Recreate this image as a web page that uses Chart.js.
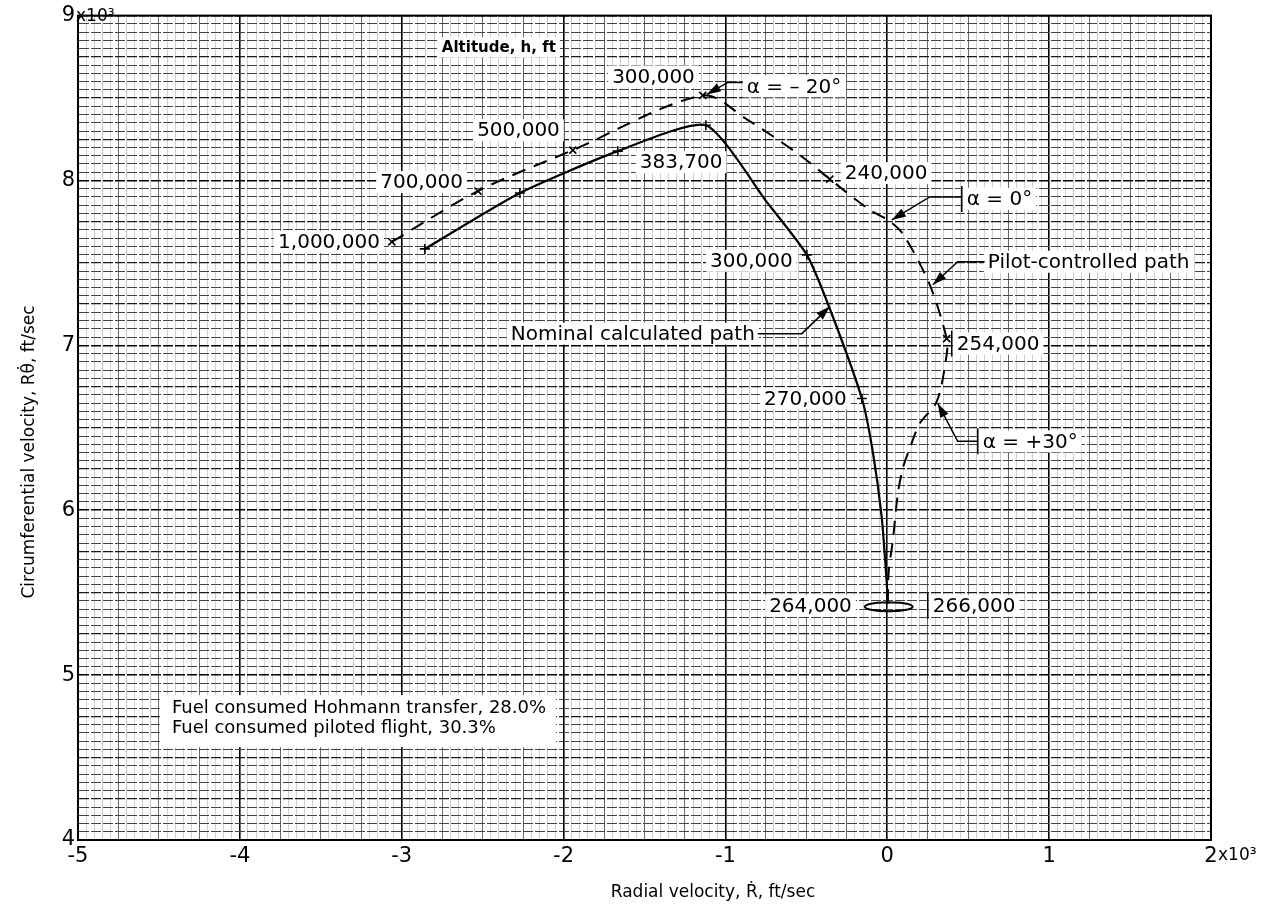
<!DOCTYPE html>
<html><head><meta charset="utf-8">
<script src="https://cdn.jsdelivr.net/npm/chart.js@4"></script>
<style>html,body{margin:0;padding:0;background:#fff}#wrap{width:1268px;height:905px}</style>
</head><body><div id="wrap"><canvas id="c" width="1268" height="905"></canvas></div>
<script>
// ---- data (x in 10^3 ft/sec radial, y in 10^3 ft/sec circumferential) ----
const nominalX = [-2.857, -2.270, -1.665, -1.121, -0.744, -0.497, -0.355, -0.157, -0.090, -0.034, -0.003, 0.003];
const nominalY = [7.585, 7.924, 8.178, 8.335, 7.869, 7.549, 7.222, 6.678, 6.358, 5.953, 5.554, 5.433];
const nominalMarkerIdx = [0, 1, 2, 3, 5, 7];

const pilotX = [-3.061, -2.529, -1.943, -1.140, -0.868, -0.540, -0.355, -0.108, 0.003, 0.096, 0.262, 0.367, 0.367, 0.306, 0.201, 0.139, 0.096, 0.065, 0.034, 0.009, 0.003];
const pilotY = [7.628, 7.936, 8.184, 8.516, 8.371, 8.154, 8.008, 7.821, 7.761, 7.676, 7.368, 7.041, 6.944, 6.660, 6.527, 6.376, 6.255, 6.098, 5.814, 5.632, 5.433];
const pilotMarkerIdx = [0, 1, 2, 3, 6, 11];

const loopX = [0.009, 0.110, 0.157, 0.110, 0.009, -0.092, -0.139, -0.092, 0.009];
const loopY = [5.442, 5.435, 5.415, 5.395, 5.388, 5.395, 5.415, 5.435, 5.442];

const xTickValues = [-5, -4, -3, -2, -1, 0, 1, 2];
const xTickLabels = ['-5', '-4', '-3', '-2', '-1', '0', '1', '2'];
const yTickValues = [4, 5, 6, 7, 8, 9];
const yTickLabels = ['4', '5', '6', '7', '8', '9'];
const xTitle = 'Radial velocity, Ṙ, ft/sec';
const yTitle = 'Circumferential velocity, Rθ̇, ft/sec';
const exponentText = 'x10³';

// annotation texts (anchored in data coordinates)
const annoLabels = [
  {t: 'Altitude, h, ft', x: -2.752, y: 8.807, a: 'left', f: 'bold 15px "DejaVu Sans"'},
  {t: '300,000', x: -1.189, y: 8.631, a: 'right'},
  {t: 'α = – 20°', x: -0.868, y: 8.571, a: 'left'},
  {t: '500,000', x: -2.023, y: 8.305, a: 'right'},
  {t: '383,700', x: -1.529, y: 8.111, a: 'left'},
  {t: '700,000', x: -2.622, y: 7.990, a: 'right'},
  {t: '1,000,000', x: -3.135, y: 7.628, a: 'right'},
  {t: '240,000', x: -0.263, y: 8.045, a: 'left'},
  {t: 'α = 0°', x: 0.491, y: 7.888, a: 'left', bar: true},
  {t: 'Pilot-controlled path', x: 0.621, y: 7.507, a: 'left'},
  {t: '254,000', x: 0.429, y: 7.011, a: 'left', bar: true},
  {t: '300,000', x: -0.584, y: 7.513, a: 'right'},
  {t: 'Nominal calculated path', x: -0.818, y: 7.071, a: 'right'},
  {t: '270,000', x: -0.250, y: 6.678, a: 'right'},
  {t: 'α = +30°', x: 0.590, y: 6.418, a: 'left', bar: true},
  {t: '264,000', x: -0.219, y: 5.421, a: 'right'},
  {t: '266,000', x: 0.281, y: 5.421, a: 'left', bar: true}
];
const noteLines = ['Fuel consumed Hohmann transfer, 28.0%', 'Fuel consumed piloted flight, 30.3%'];
const noteAnchor = {x: -4.42, y: 4.80};
const leaders = [
  [[-0.893, 8.595], [-0.985, 8.595], [-1.115, 8.522]],
  [[0.460, 7.900], [0.262, 7.900], [0.028, 7.761]],
  [[0.602, 7.507], [0.435, 7.507], [0.281, 7.368]],
  [[-0.800, 7.071], [-0.528, 7.071], [-0.355, 7.235]],
  [[0.559, 6.418], [0.435, 6.418], [0.312, 6.648]]
];

// ---- helpers ----
const FONT = '"DejaVu Sans", "Liberation Sans", sans-serif';
const toPts = (xs, ys) => xs.map((v, i) => ({x: v, y: ys[i]}));
const near = (v, step) => Math.abs(v / step - Math.round(v / step)) < 1e-6;
function gridTicks(min, max, step) {
  const t = []; const n = Math.round((max - min) / step);
  for (let i = 0; i <= n; i++) t.push({value: Math.round((min + i * step) * 1000) / 1000});
  return t;
}
function lookup(vals, labs, v) {
  for (let i = 0; i < vals.length; i++) if (Math.abs(vals[i] - v) < 1e-6) return labs[i];
  return '';
}

const annotPlugin = {
  id: 'annot',
  beforeDatasetsDraw(chart) {
    const {ctx, scales: {x, y}} = chart;
    ctx.save();
    ctx.setLineDash([]);
    ctx.textBaseline = 'middle';
    annoLabels.forEach(l => {
      ctx.font = l.f || ('20px ' + FONT);
      const w = ctx.measureText(l.t).width;
      const px = x.getPixelForValue(l.x), py = y.getPixelForValue(l.y);
      const left = l.a === 'left' ? px : (l.a === 'right' ? px - w : px - w / 2);
      const h = l.f ? 20 : 22;
      ctx.fillStyle = '#fff';
      ctx.fillRect(left - 4, py - h / 2, w + 8, h);
      if (l.bar) {
        ctx.strokeStyle = '#000'; ctx.lineWidth = 1.5;
        ctx.beginPath(); ctx.moveTo(left - 5, py - h / 2 - 2); ctx.lineTo(left - 5, py + h / 2 + 2); ctx.stroke();
      }
      ctx.fillStyle = '#000';
      ctx.textAlign = 'left';
      ctx.fillText(l.t, left, py + 1);
    });
    ctx.font = '18px ' + FONT;
    const nx = x.getPixelForValue(noteAnchor.x), ny = y.getPixelForValue(noteAnchor.y);
    const nw = Math.max(...noteLines.map(s => ctx.measureText(s).width));
    ctx.fillStyle = '#fff';
    ctx.fillRect(nx - 12, ny - 13, nw + 22, 52);
    ctx.fillStyle = '#000';
    ctx.textAlign = 'left';
    noteLines.forEach((s, i) => ctx.fillText(s, nx, ny + i * 20));
    ctx.restore();
  },
  afterDatasetsDraw(chart) {
    const {ctx, scales: {x, y}, chartArea: ca} = chart;
    ctx.save();
    ctx.setLineDash([]);
    ctx.strokeStyle = '#000'; ctx.fillStyle = '#000'; ctx.lineWidth = 1.5;
    leaders.forEach(path => {
      const p = path.map(q => [x.getPixelForValue(q[0]), y.getPixelForValue(q[1])]);
      ctx.beginPath(); ctx.moveTo(p[0][0], p[0][1]);
      for (let i = 1; i < p.length; i++) ctx.lineTo(p[i][0], p[i][1]);
      ctx.stroke();
      const a = p[p.length - 2], b = p[p.length - 1];
      const ang = Math.atan2(b[1] - a[1], b[0] - a[0]);
      const L = 14, W = 4.5;
      ctx.beginPath();
      ctx.moveTo(b[0], b[1]);
      ctx.lineTo(b[0] - L * Math.cos(ang) + W * Math.sin(ang), b[1] - L * Math.sin(ang) - W * Math.cos(ang));
      ctx.lineTo(b[0] - L * Math.cos(ang) - W * Math.sin(ang), b[1] - L * Math.sin(ang) + W * Math.cos(ang));
      ctx.closePath(); ctx.fill();
    });
    ctx.lineWidth = 2;
    ctx.strokeRect(ca.left, ca.top, ca.right - ca.left, ca.bottom - ca.top);
    ctx.restore();
  },
  afterDraw(chart) {
    const {ctx, scales: {x, y}, chartArea: ca} = chart;
    ctx.save();
    ctx.fillStyle = '#000';
    ctx.font = '17px ' + FONT;
    ctx.textBaseline = 'middle'; ctx.textAlign = 'left';
    ctx.fillText(exponentText, ca.left - 2, y.getPixelForValue(9) + 1);
    ctx.fillText(exponentText, x.getPixelForValue(2) + 7, ca.bottom + 16);
    ctx.textAlign = 'center';
    ctx.fillText(xTitle, 713, 893);
    ctx.translate(30, 452);
    ctx.rotate(-Math.PI / 2);
    ctx.fillText(yTitle, 0, 0);
    ctx.restore();
  }
};

const chart = new Chart(document.getElementById('c'), {
  type: 'scatter',
  data: {
    datasets: [
      {
        label: 'Nominal calculated path', data: toPts(nominalX, nominalY), showLine: true,
        borderColor: '#000', borderWidth: 2.2, tension: 0.2, fill: false,
        pointStyle: 'cross', pointBorderColor: '#000', pointBorderWidth: 1.6,
        pointRadius: c => nominalMarkerIdx.includes(c.dataIndex) ? 5 : 0
      },
      {
        label: 'Pilot-controlled path', data: toPts(pilotX, pilotY), showLine: true,
        borderColor: '#000', borderWidth: 2, borderDash: [14, 9], tension: 0.3, fill: false,
        pointStyle: 'crossRot', pointBorderColor: '#000', pointBorderWidth: 1.6,
        pointRadius: c => pilotMarkerIdx.includes(c.dataIndex) ? 5 : 0
      },
      {
        label: 'loop', data: toPts(loopX, loopY), showLine: true,
        borderColor: '#000', borderWidth: 2, tension: 0.4, fill: false, pointRadius: 0
      }
    ]
  },
  options: {
    responsive: false, animation: false, devicePixelRatio: 1,
    layout: {padding: {left: 0, right: 57, top: 13, bottom: 0}},
    plugins: {legend: {display: false}, tooltip: {enabled: false}},
    scales: {
      x: {
        type: 'linear', min: -5, max: 2,
        afterBuildTicks: s => { s.ticks = gridTicks(-5, 2, 0.05); },
        afterFit: s => { s.height = 65; },
        border: {color: '#000', width: 2},
        grid: {
          drawTicks: false,
          color: c => near(c.tick.value, 1) ? '#000' : (near(c.tick.value, 0.25) ? '#6a6a6a' : '#d0d0d0'),
          lineWidth: c => near(c.tick.value, 1) ? 1.6 : 1
        },
        ticks: {
          autoSkip: false, maxRotation: 0, minRotation: 0, padding: 4, color: '#000',
          font: {family: FONT, size: 21},
          callback: v => lookup(xTickValues, xTickLabels, v)
        }
      },
      y: {
        type: 'linear', min: 4, max: 9,
        afterBuildTicks: s => { s.ticks = gridTicks(4, 9, 0.05); },
        afterFit: s => { s.width = 78; },
        border: {color: '#000', width: 2, dash: [10, 2]},
        grid: {
          drawTicks: false,
          color: c => near(c.tick.value, 1) ? '#000' : (near(c.tick.value, 0.25) ? '#1a1a1a' : '#444'),
          lineWidth: c => near(c.tick.value, 1) ? 1.6 : (near(c.tick.value, 0.25) ? 1.3 : 1)
        },
        ticks: {
          autoSkip: false, padding: 3, color: '#000',
          font: {family: FONT, size: 21},
          callback: v => lookup(yTickValues, yTickLabels, v)
        }
      }
    }
  },
  plugins: [annotPlugin]
});
</script>
</body></html>
